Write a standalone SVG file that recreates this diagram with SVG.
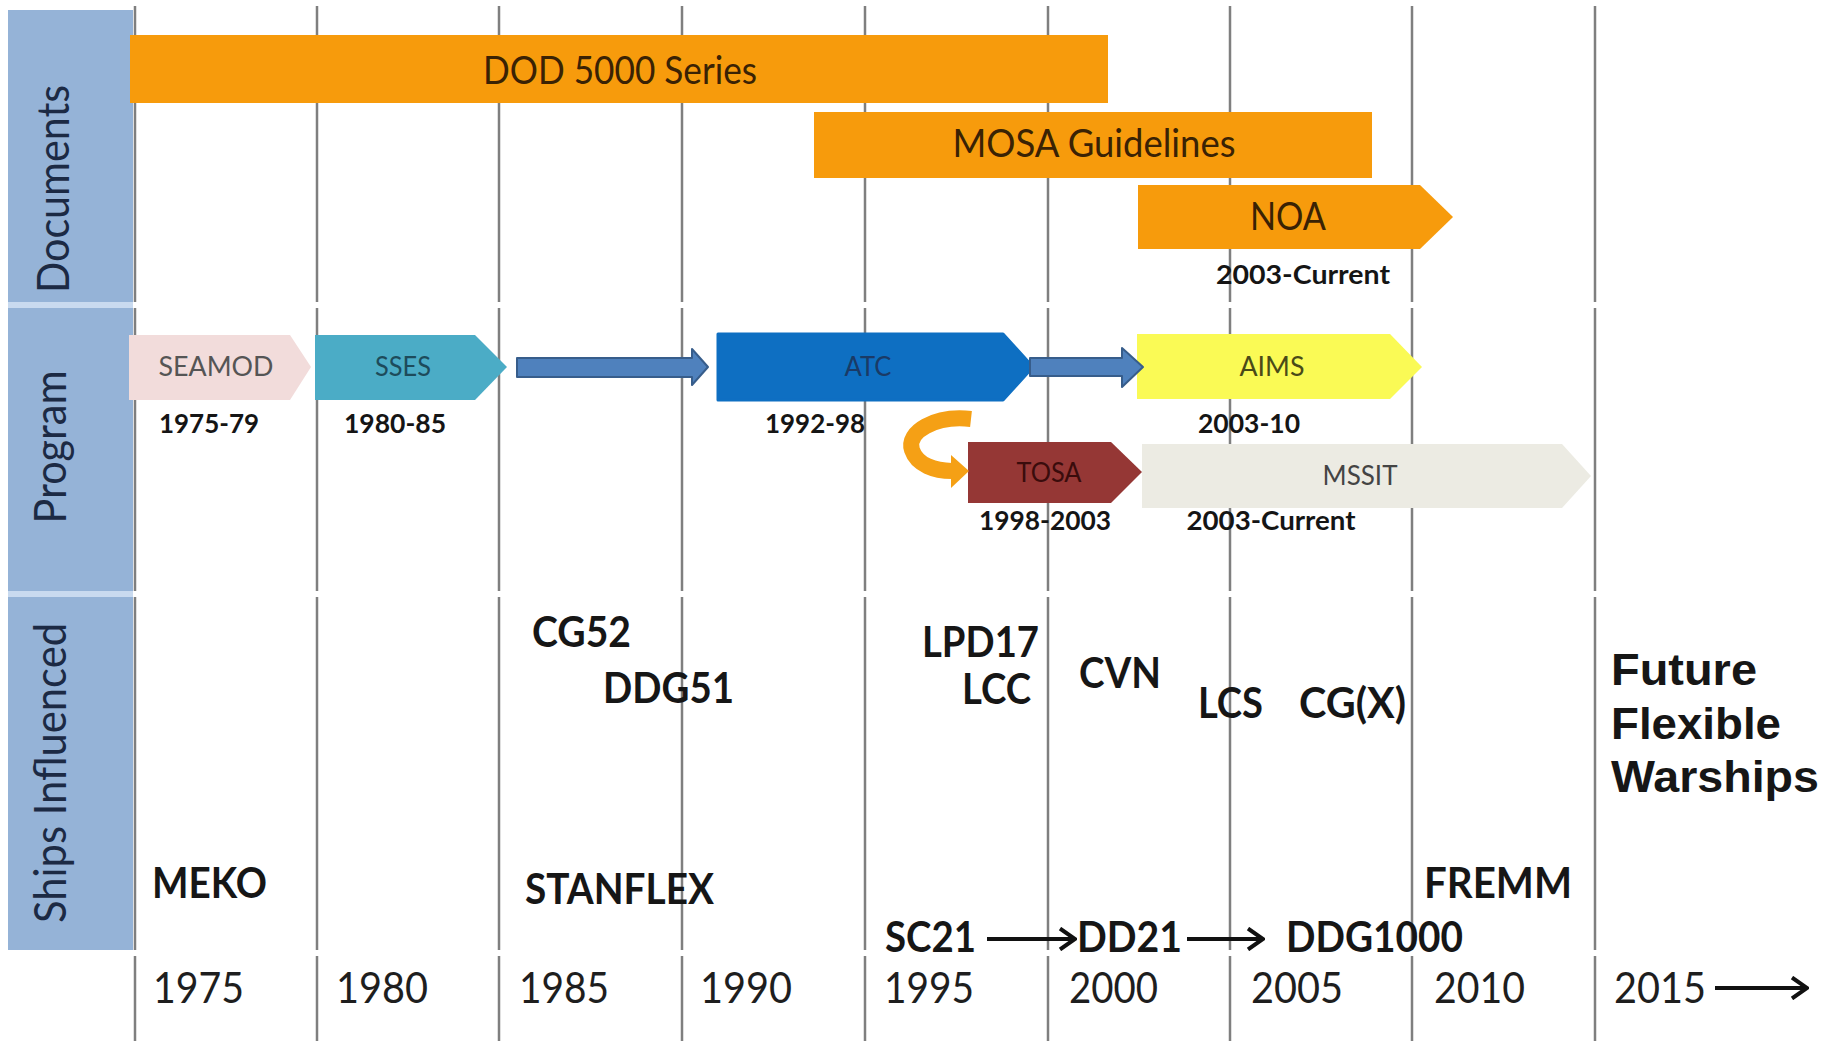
<svg xmlns="http://www.w3.org/2000/svg" width="1833" height="1041" viewBox="0 0 1833 1041">
<defs>
<style>
.grid{stroke:#7f7f7f;stroke-width:2.5;fill:none}
.panel{fill:#95B3D7}
.ptxt{font-family:Lato,"Open Sans","Liberation Sans",sans-serif;font-size:44px;fill:#1c2a44;text-anchor:middle}
.bar{fill:#F79B0C}
.btxt{font-family:Lato,"Open Sans","Liberation Sans",sans-serif;font-size:38px;fill:#3a2204;text-anchor:middle}
.ntxt{font-family:Lato,"Open Sans","Liberation Sans",sans-serif;font-size:27px;text-anchor:middle}
.dtxt{font-family:Lato,"Open Sans","Liberation Sans",sans-serif;font-size:26px;font-weight:bold;fill:#151515;text-anchor:middle}
.ship{font-family:Lato,"Open Sans","Liberation Sans",sans-serif;font-size:42px;font-weight:bold;fill:#161616}
.year{font-family:Lato,"Open Sans","Liberation Sans",sans-serif;font-size:43px;fill:#1e1e1e}
.fut{font-family:"Liberation Sans",Arial,sans-serif;font-size:44px;font-weight:bold;fill:#161616}
.barrow{fill:#4F81BD;stroke:#375D8B;stroke-width:2;stroke-linejoin:round}
.karrow{stroke:#111;stroke-width:4;fill:none}
</style>
<marker id="chev" viewBox="0 0 20 24" refX="18" refY="12" markerWidth="20" markerHeight="24" markerUnits="userSpaceOnUse" orient="auto">
<path d="M3,1.5 L18,12 L3,22.5" fill="none" stroke="#111" stroke-width="4"/>
</marker>
</defs>
<rect width="1833" height="1041" fill="#ffffff"/>

<g id="left-panel">
<rect x="8" y="10" width="125" height="940" fill="#C9DAEF"/>
<rect class="panel" x="8" y="10" width="125" height="292"/>
<rect class="panel" x="8" y="308" width="125" height="283"/>
<rect class="panel" x="8" y="597" width="125" height="353"/>
<text class="ptxt" transform="translate(69,189) rotate(-90)" textLength="208" lengthAdjust="spacingAndGlyphs">Documents</text>
<text class="ptxt" transform="translate(66,447) rotate(-90)" textLength="153" lengthAdjust="spacingAndGlyphs">Program</text>
<text class="ptxt" transform="translate(66,773) rotate(-90)" textLength="300" lengthAdjust="spacingAndGlyphs">Ships Influenced</text>
</g>

<g id="grid">
<path class="grid" d="M135,6V302M135,308V591M135,597V950M135,956V1041
M317,6V302M317,308V591M317,597V950M317,956V1041
M499,6V302M499,308V591M499,597V950M499,956V1041
M682,6V302M682,308V591M682,597V950M682,956V1041
M865,6V302M865,308V591M865,597V950M865,956V1041
M1048,6V302M1048,308V591M1048,597V950M1048,956V1041
M1230,6V302M1230,308V591M1230,597V950M1230,956V1041
M1412,6V302M1412,308V591M1412,597V950M1412,956V1041
M1595,6V302M1595,308V591M1595,597V950M1595,956V1041"/>
</g>

<g id="dod5000">
<rect class="bar" x="130" y="35" width="978" height="68"/>
<text class="btxt" x="620" y="84" textLength="274" lengthAdjust="spacingAndGlyphs">DOD 5000 Series</text>
</g>
<g id="mosa">
<rect class="bar" x="814" y="112" width="558" height="66"/>
<text class="btxt" x="1094" y="157" textLength="283" lengthAdjust="spacingAndGlyphs">MOSA Guidelines</text>
</g>
<g id="noa">
<polygon class="bar" points="1138,185 1420,185 1453,217 1420,249 1138,249"/>
<text class="btxt" x="1288" y="230" textLength="76" lengthAdjust="spacingAndGlyphs">NOA</text>
<text class="dtxt" x="1303" y="284" textLength="174" lengthAdjust="spacingAndGlyphs">2003-Current</text>
</g>

<g id="seamod">
<polygon points="129,335 290,335 311,367 290,400 129,400" fill="#F2DCDB"/>
<text class="ntxt" x="216" y="376" fill="#555555" textLength="115" lengthAdjust="spacingAndGlyphs">SEAMOD</text>
<text class="dtxt" x="209" y="433" textLength="100" lengthAdjust="spacingAndGlyphs">1975-79</text>
</g>
<g id="sses">
<polygon points="315,335 475,335 507,367 475,400 315,400" fill="#4BACC6"/>
<text class="ntxt" x="403" y="376" fill="#1d4b5b" textLength="56" lengthAdjust="spacingAndGlyphs">SSES</text>
<text class="dtxt" x="395" y="433" textLength="102" lengthAdjust="spacingAndGlyphs">1980-85</text>
</g>
<g id="atc">
<polygon points="718,334 1003,334 1033,367 1003,400 718,400" fill="#0E6FC2" stroke="#0E6FC2" stroke-width="3" stroke-linejoin="round"/>
<text class="ntxt" x="868" y="376" fill="#1a3a66" textLength="47" lengthAdjust="spacingAndGlyphs">ATC</text>
<text class="dtxt" x="815" y="433" textLength="100" lengthAdjust="spacingAndGlyphs">1992-98</text>
</g>
<g id="aims">
<polygon points="1137,334 1390,334 1422,367 1390,399 1137,399" fill="#FAFA55"/>
<text class="ntxt" x="1272" y="376" fill="#4a4a18" textLength="65" lengthAdjust="spacingAndGlyphs">AIMS</text>
<text class="dtxt" x="1249" y="433" textLength="102" lengthAdjust="spacingAndGlyphs">2003-10</text>
</g>
<g id="tosa">
<polygon points="968,442 1111,442 1142,472 1111,503 968,503" fill="#953735"/>
<text class="ntxt" x="1049" y="482" fill="#3a0c0c" textLength="65" lengthAdjust="spacingAndGlyphs">TOSA</text>
<text class="dtxt" x="1045" y="530" textLength="132" lengthAdjust="spacingAndGlyphs">1998-2003</text>
</g>
<g id="mssit">
<polygon points="1142,444 1562,444 1591,476 1562,508 1142,508" fill="#ECEBE3"/>
<text class="ntxt" x="1360" y="485" fill="#444444" textLength="75" lengthAdjust="spacingAndGlyphs">MSSIT</text>
<text class="dtxt" x="1271" y="530" textLength="169" lengthAdjust="spacingAndGlyphs">2003-Current</text>
</g>

<g id="connectors">
<polygon class="barrow" points="517,358 692,358 692,349 708,367 692,385 692,377 517,377"/>
<polygon class="barrow" points="1030,358 1122,358 1122,348 1143,367 1122,387 1122,376 1030,376"/>
<path d="M971,419 C935,415 906,432 912,450 C917,465 935,471 952,471" fill="none" stroke="#F5A015" stroke-width="16"/>
<polygon points="951,455 969,471 951,488" fill="#F5A015"/>
<line class="karrow" x1="987" y1="939" x2="1075" y2="939" marker-end="url(#chev)"/>
<line class="karrow" x1="1187" y1="939" x2="1263" y2="939" marker-end="url(#chev)"/>
<line class="karrow" x1="1715" y1="988" x2="1807" y2="988" marker-end="url(#chev)"/>
</g>

<g id="ships">
<text class="ship" x="532" y="647" textLength="99" lengthAdjust="spacingAndGlyphs">CG52</text>
<text class="ship" x="603" y="703" textLength="131" lengthAdjust="spacingAndGlyphs">DDG51</text>
<text class="ship" x="152" y="898" textLength="115" lengthAdjust="spacingAndGlyphs">MEKO</text>
<text class="ship" x="525" y="904" textLength="189" lengthAdjust="spacingAndGlyphs">STANFLEX</text>
<text class="ship" x="922" y="657" font-size="38" textLength="117" lengthAdjust="spacingAndGlyphs">LPD17</text>
<text class="ship" x="962" y="704" font-size="38" textLength="69" lengthAdjust="spacingAndGlyphs">LCC</text>
<text class="ship" x="1079" y="688" textLength="82" lengthAdjust="spacingAndGlyphs">CVN</text>
<text class="ship" x="1198" y="718" textLength="65" lengthAdjust="spacingAndGlyphs">LCS</text>
<text class="ship" x="1299" y="718" textLength="107" lengthAdjust="spacingAndGlyphs">CG(X)</text>
<text class="ship" x="1424" y="898" textLength="148" lengthAdjust="spacingAndGlyphs">FREMM</text>
<text class="ship" x="885" y="952" textLength="91" lengthAdjust="spacingAndGlyphs">SC21</text>
<text class="ship" x="1077" y="952" textLength="105" lengthAdjust="spacingAndGlyphs">DD21</text>
<text class="ship" x="1286" y="952" textLength="177" lengthAdjust="spacingAndGlyphs">DDG1000</text>
<text class="fut" x="1611" y="685" textLength="146" lengthAdjust="spacingAndGlyphs">Future</text>
<text class="fut" x="1611" y="739" textLength="170" lengthAdjust="spacingAndGlyphs">Flexible</text>
<text class="fut" x="1611" y="792" textLength="208" lengthAdjust="spacingAndGlyphs">Warships</text>
</g>

<g id="years">
<text class="year" x="153" y="1003" textLength="91" lengthAdjust="spacingAndGlyphs">1975</text>
<text class="year" x="336" y="1003" textLength="92" lengthAdjust="spacingAndGlyphs">1980</text>
<text class="year" x="519" y="1003" textLength="90" lengthAdjust="spacingAndGlyphs">1985</text>
<text class="year" x="700" y="1003" textLength="92" lengthAdjust="spacingAndGlyphs">1990</text>
<text class="year" x="884" y="1003" textLength="90" lengthAdjust="spacingAndGlyphs">1995</text>
<text class="year" x="1069" y="1003" textLength="89" lengthAdjust="spacingAndGlyphs">2000</text>
<text class="year" x="1251" y="1003" textLength="92" lengthAdjust="spacingAndGlyphs">2005</text>
<text class="year" x="1434" y="1003" textLength="91" lengthAdjust="spacingAndGlyphs">2010</text>
<text class="year" x="1614" y="1003" textLength="92" lengthAdjust="spacingAndGlyphs">2015</text>
</g>
</svg>
